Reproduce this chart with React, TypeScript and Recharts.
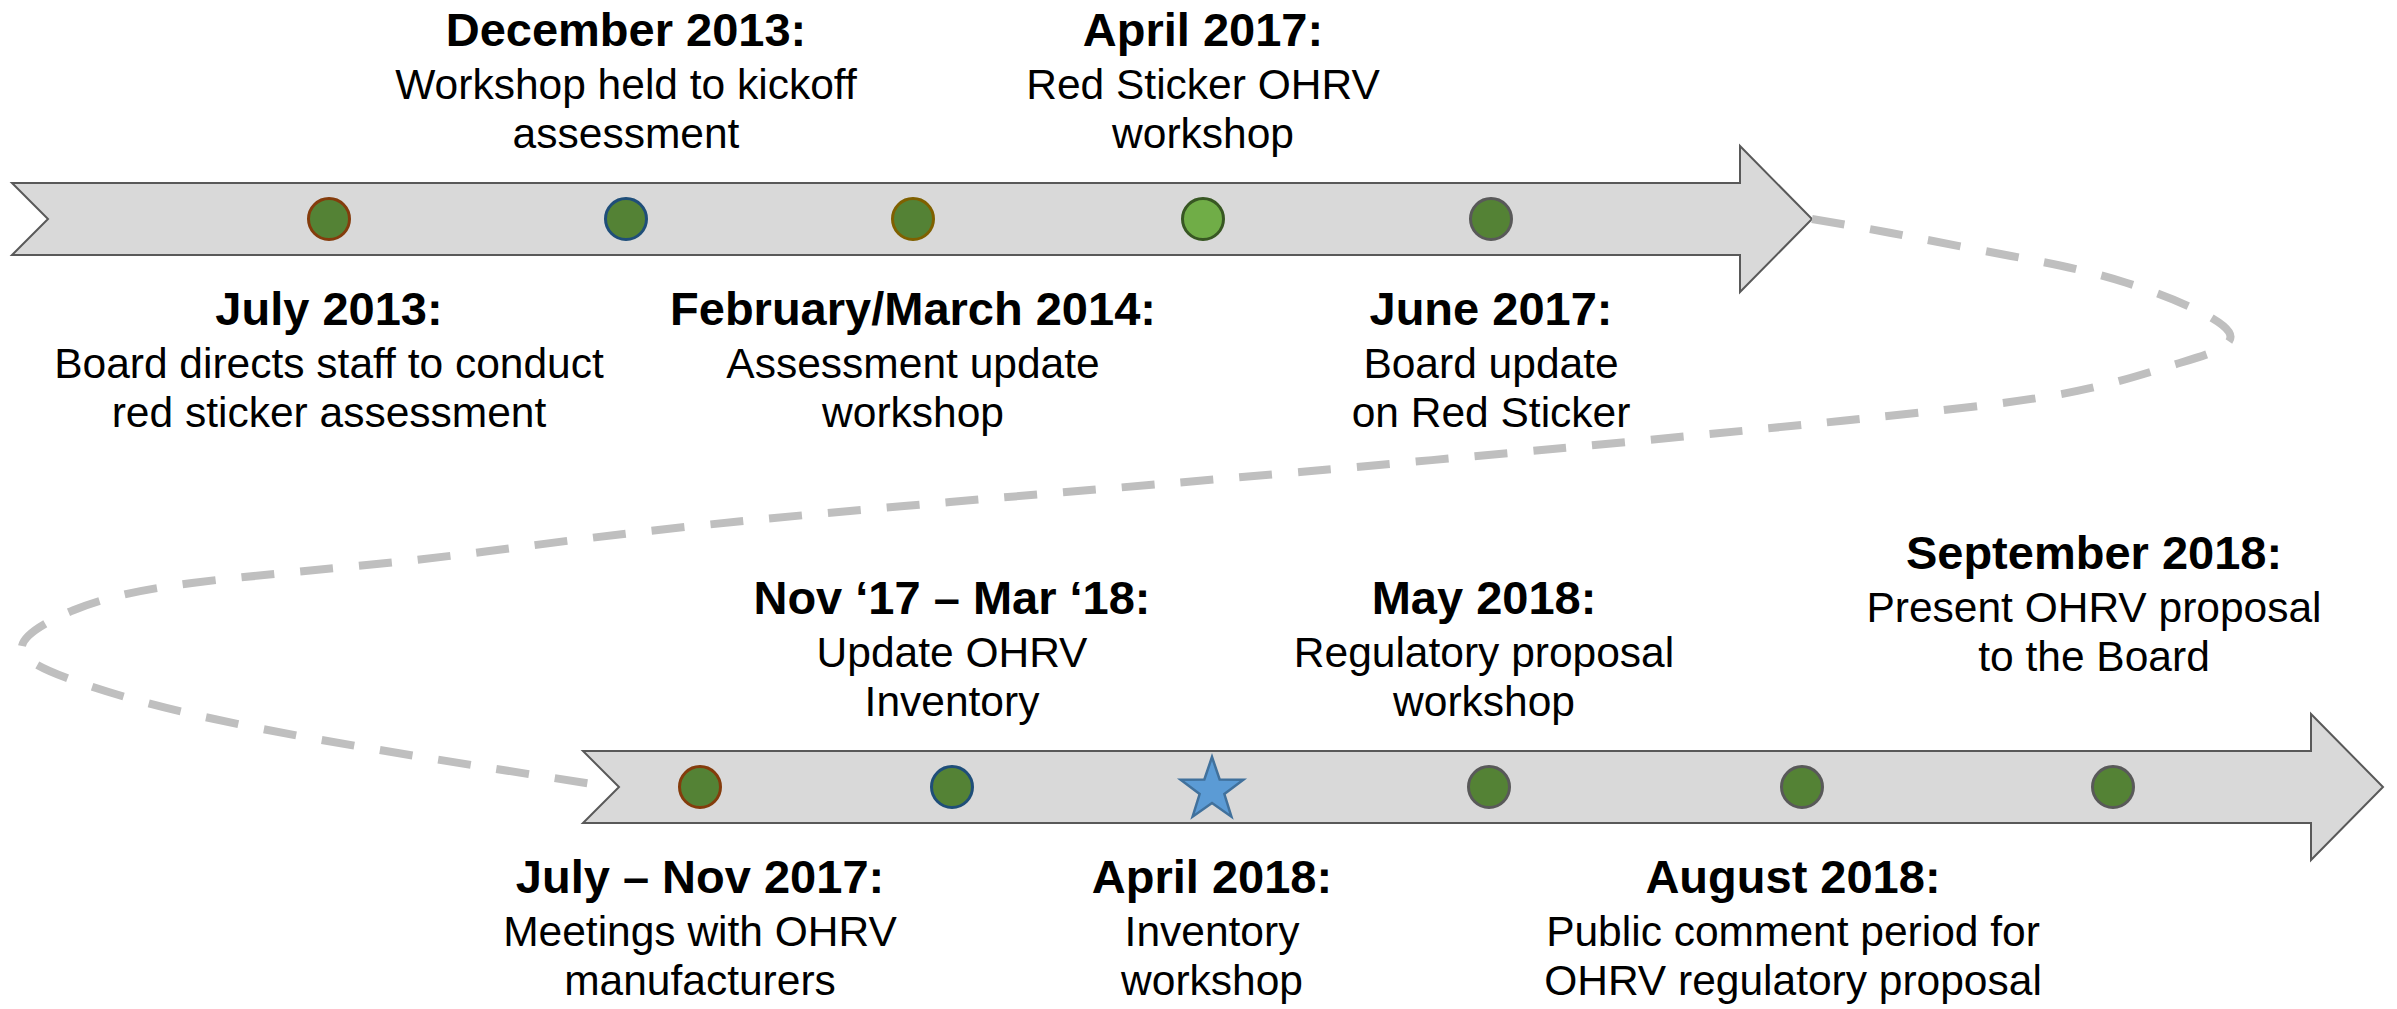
import React from 'react';
import { ComposedChart, XAxis, YAxis, Scatter, Line, ReferenceArea } from 'recharts';

// canvas = one unit per pixel of the original slide
const W = 2397;
const H = 1009;

// ---- top row (2013 - 2017) ----
const topDates = ['July 2013:', 'December 2013:', 'February/March 2014:', 'April 2017:', 'June 2017:'];
const topNotes = [
  ['Board directs staff to conduct', 'red sticker assessment'],
  ['Workshop held to kickoff', 'assessment'],
  ['Assessment update', 'workshop'],
  ['Red Sticker OHRV', 'workshop'],
  ['Board update', 'on Red Sticker'],
];
const topPos = [329, 626, 913, 1203, 1491];
const topMarks = ['brown', 'blue', 'gold', 'lime', 'gray'];

// ---- bottom row (2017 - 2018) ----
const bottomDates = [
  'July \u2013 Nov 2017:',
  'Nov \u201817 \u2013 Mar \u201818:',
  'April 2018:',
  'May 2018:',
  'August 2018:',
  'September 2018:',
];
const bottomNotes = [
  ['Meetings with OHRV', 'manufacturers'],
  ['Update OHRV', 'Inventory'],
  ['Inventory', 'workshop'],
  ['Regulatory proposal', 'workshop'],
  ['Public comment period for', 'OHRV regulatory proposal'],
  ['Present OHRV proposal', 'to the Board'],
];
const bottomPos = [700, 952, 1212, 1489, 1802, 2113];
const bottomMarks = ['brown', 'blue', 'star', 'gray', 'gray', 'gray'];

// ---- dashed connector from the end of row 1 to the start of row 2 ----
const linkX = [1812, 1891, 2011, 2127, 2229, 2173, 2056, 1878, 1700, 1300, 950, 640, 415, 192, 74, 22, 67, 183, 362, 605];
const linkY = [219, 233, 256, 283, 332, 365, 395, 417, 435, 472, 502, 532, 560, 583, 610, 646, 678, 712, 747, 786];

// ---- layout ----
const ROW_Y = [219, 787];
const ARROWS = [
  { from: 12, to: 1812, row: 0 },
  { from: 583, to: 2383, row: 1 },
];
const HEAD_HALF = 73;
// label nudges (bottom row index -> shift)
const NUDGE: Record<number, { dx?: number; dy?: number }> = {
  3: { dx: -5 },
  4: { dx: -9 },
  5: { dx: -19, dy: -45 },
};

const FONT = '"Liberation Sans", Arial, Helvetica, sans-serif';

const MARK_STYLE: Record<string, { fill: string; stroke: string }> = {
  brown: { fill: '#548235', stroke: '#843C0C' },
  blue:  { fill: '#548235', stroke: '#1F4E79' },
  gold:  { fill: '#548235', stroke: '#7F6000' },
  lime:  { fill: '#70AD47', stroke: '#385723' },
  gray:  { fill: '#548235', stroke: '#595959' },
  star:  { fill: '#5B9BD5', stroke: '#41719C' },
};

const topEvents = topDates.map((d, i) => ({
  x: topPos[i], y: ROW_Y[0], date: d, notes: topNotes[i], mark: topMarks[i],
  above: i % 2 === 1, dx: 0, dy: 0,
}));
const bottomEvents = bottomDates.map((d, i) => ({
  x: bottomPos[i], y: ROW_Y[1], date: d, notes: bottomNotes[i], mark: bottomMarks[i],
  above: i % 2 === 1, dx: NUDGE[i]?.dx ?? 0, dy: NUDGE[i]?.dy ?? 0,
}));
const events = [...topEvents, ...bottomEvents];
const linkData = linkX.map((x, i) => ({ x, y: linkY[i] }));

function ArrowShape(props: any) {
  const { x, y, width, height } = props;
  if (x == null || y == null) return null;
  const cy = y + height / 2;
  const body = 36;
  const head = 72;
  const notch = 36;
  const pts = [
    [x, cy - body],
    [x + width - head, cy - body],
    [x + width - head, y],
    [x + width, cy],
    [x + width - head, y + height],
    [x + width - head, cy + body],
    [x, cy + body],
    [x + notch, cy],
  ].map(p => p.join(',')).join(' ');
  return <polygon points={pts} fill="#D9D9D9" stroke="#595959" strokeWidth={2} />;
}

function Marker(props: any) {
  const { cx, cy, payload } = props;
  if (cx == null || cy == null) return null;
  const s = MARK_STYLE[payload.mark];
  if (payload.mark === 'star') {
    const R = 33;
    const r = 13;
    const c = cy + 3;
    const pts: string[] = [];
    for (let k = 0; k < 10; k++) {
      const a = -Math.PI / 2 + (k * Math.PI) / 5;
      const rad = k % 2 === 0 ? R : r;
      pts.push(`${cx + rad * Math.cos(a)},${c + rad * Math.sin(a)}`);
    }
    return <polygon points={pts.join(' ')} fill={s.fill} stroke={s.stroke} strokeWidth={2.5} />;
  }
  return <circle cx={cx} cy={cy} r={20.5} fill={s.fill} stroke={s.stroke} strokeWidth={3} />;
}

function EventLabel(props: any) {
  const { cx, cy, payload } = props;
  if (cx == null || cy == null) return null;
  const base = cy + (payload.above ? -173 : 106) + payload.dy;
  const x = cx + payload.dx;
  return (
    <g fontFamily={FONT} fill="#000" textAnchor="middle">
      <text x={x} y={base} fontSize={47} fontWeight={700}>{payload.date}</text>
      {payload.notes.map((t: string, i: number) => (
        <text key={i} x={x} y={base + 53 + 49 * i} fontSize={42.5}>{t}</text>
      ))}
    </g>
  );
}

export default function App() {
  return (
    <div style={{ position: 'absolute', left: 0, top: 0, width: W, height: H, background: '#FFFFFF' }}>
      <ComposedChart width={W} height={H} margin={{ top: 0, right: 0, bottom: 0, left: 0 }}>
        <XAxis type="number" dataKey="x" domain={[0, W]} allowDataOverflow hide />
        <YAxis type="number" dataKey="y" domain={[0, H]} allowDataOverflow reversed hide />

        {ARROWS.map((a, i) => (
          <ReferenceArea
            key={i}
            x1={a.from}
            x2={a.to}
            y1={ROW_Y[a.row] - HEAD_HALF}
            y2={ROW_Y[a.row] + HEAD_HALF}
            shape={<ArrowShape />}
          />
        ))}

        <Line
          data={linkData}
          dataKey="y"
          type="natural"
          stroke="#BFBFBF"
          strokeWidth={8}
          strokeDasharray="33 26"
          dot={false}
          activeDot={false}
          isAnimationActive={false}
        />

        <Scatter data={events} dataKey="y" shape={<Marker />} isAnimationActive={false} />
        <Scatter data={events} dataKey="y" shape={<EventLabel />} isAnimationActive={false} />
      </ComposedChart>
    </div>
  );
}
